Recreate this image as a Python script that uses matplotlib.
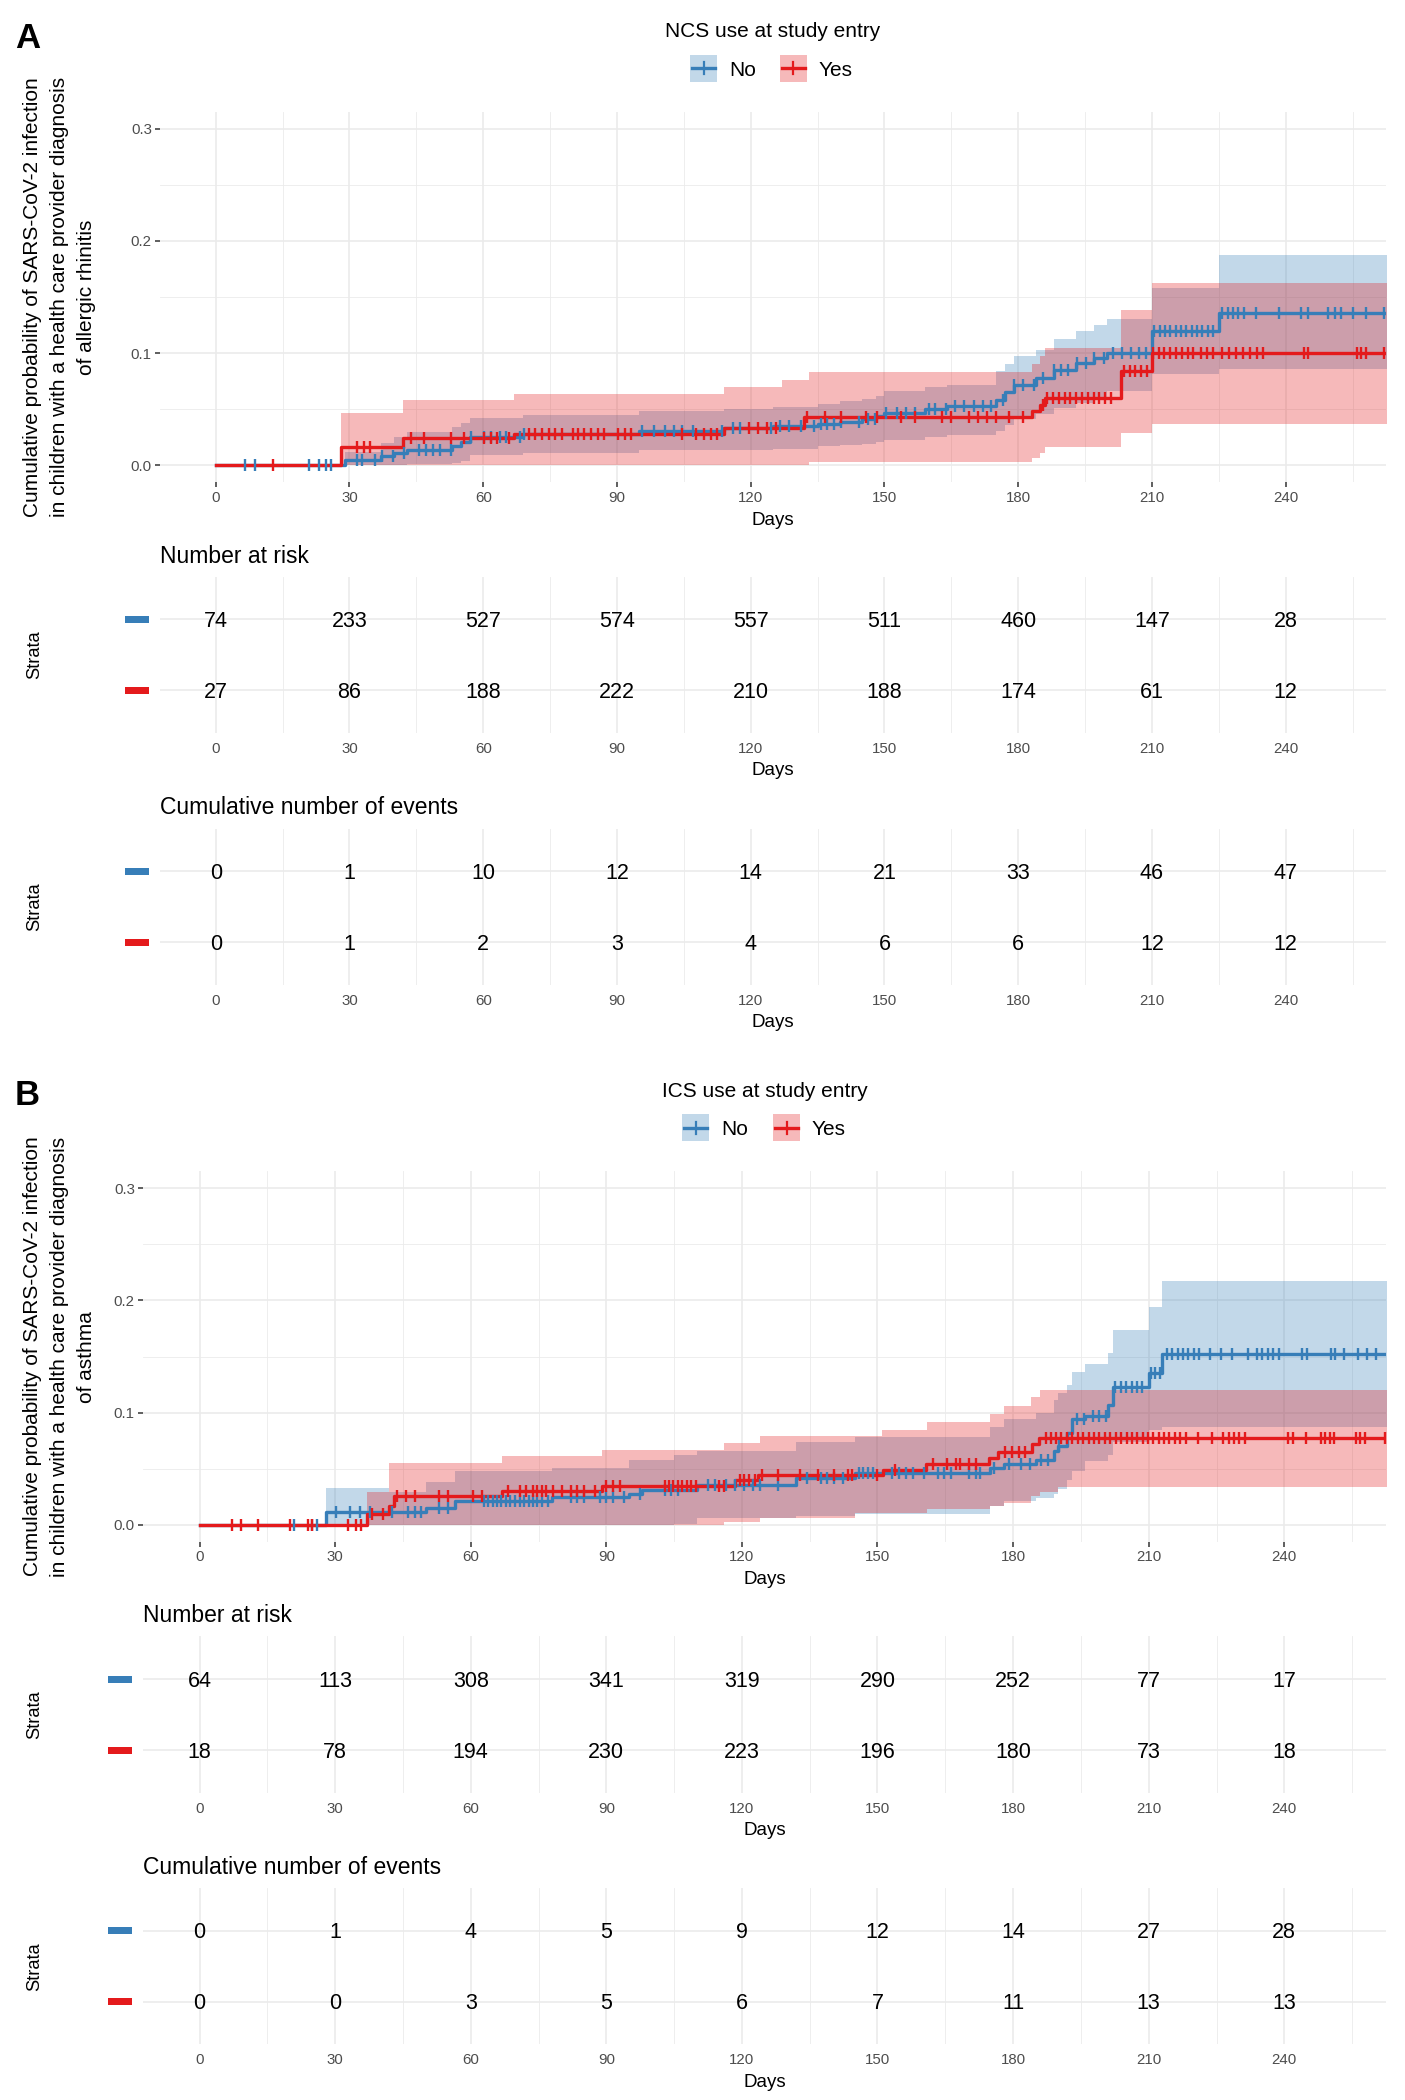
import numpy as np
import matplotlib.pyplot as plt
from matplotlib.patches import Rectangle
from matplotlib.lines import Line2D

plt.rcParams['font.family'] = ['Liberation Sans', 'DejaVu Sans']

BLUE = '#377EB8'
RED = '#E41A1C'
GRID = '#EBEBEB'
W, H = 1405, 2100

days = [0, 30, 60, 90, 120, 150, 180, 210, 240]
strata = ['No', 'Yes']

# ---------------- panel A : NCS use, allergic rhinitis ----------------
a_no_t = [0, 29, 37, 40, 43, 53, 55, 57, 69, 95, 114, 125, 135, 140, 145, 148, 150,
          159, 164, 175, 177, 179, 184, 188, 193, 197, 200, 210, 225]
a_no_est = [0, .005, .008, .011, .014, .017, .021, .025, .028, .031, .033, .035, .037,
            .039, .041, .044, .047, .050, .053, .058, .065, .072, .078, .085, .091,
            .096, .100, .120, .136]
a_no_lo = [0, 0, 0, 0, .001, .002, .004, .009, .011, .014, .014, .015, .017, .018,
           .019, .021, .023, .025, .027, .031, .036, .041, .046, .051, .056, .060,
           .066, .081, .086]
a_no_hi = [0, .012, .020, .025, .030, .034, .038, .042, .045, .048, .050, .052, .055,
           .057, .059, .062, .066, .070, .072, .084, .090, .097, .103, .113, .120,
           .125, .130, .158, .187]
a_no_cens = [6.5, 8.7, 21, 23.2, 24.7, 25.9, 31.7, 32.7, 35.7, 37.2, 39.7, 42.2, 45.7,
             47.2, 48.7, 50.2, 52.7, 57.2, 60.2, 61.7, 63.7, 65.2, 68.2, 69.2, 95.7,
             98.2, 100.7, 102.7, 104.7, 107, 113.6, 116.1, 117.6, 124.6, 126.6, 128.7,
             131.2, 134.2, 135.7, 137.2, 138.7, 140.2, 144.3, 146.3, 147.8, 150.3,
             152.8, 154.8, 156.9, 159.9, 161.4, 163.9, 165.9, 167.9, 170, 172, 174,
             176.5, 179, 181, 183.5, 185.6, 188, 189.6, 191.1, 193.1, 195.1, 197.1,
             199.2, 201.2, 203.2, 205.2, 207.2, 208.7, 210.5, 211.7, 212.9, 214.1,
             215.3, 216.5, 217.7, 218.9, 220.1, 221.3, 222.5, 223.7, 225.8, 227,
             228.2, 229.4, 230.7, 233.4, 238.4, 243.5, 245, 249.5, 251, 252.5, 255,
             258, 262]

a_yes_t = [0, 28, 42, 67, 114, 132, 183, 185, 186, 203, 210]
a_yes_est = [0, .016, .024, .028, .033, .043, .048, .054, .060, .084, .100]
a_yes_bt = [0, 28, 42, 67, 114, 127, 133, 183, 185, 186, 203, 210]
a_yes_lo = [0, 0, 0, 0, 0, 0, .003, .007, .011, .016, .029, .037]
a_yes_hi = [0, .047, .058, .064, .070, .076, .083, .090, .097, .105, .138, .1625]
a_yes_cens = [12.9, 31.7, 33.2, 34.7, 43.7, 46.7, 52.7, 55.7, 60.2, 61.7, 63.2, 65.7,
              70.2, 71.7, 73.2, 74.7, 76.2, 77.7, 80.2, 81.2, 82.7, 84.2, 85.7, 87.2,
              90.2, 91.7, 93.2, 104.7, 107.7, 109.5, 111, 112.5, 119.6, 121.6, 123.6,
              125.6, 132.7, 136.7, 140.2, 145.8, 148.3, 153.8, 156.9, 162.9, 164.9,
              168.9, 171, 173, 175, 178, 181, 185.6, 186.5, 187.8, 189.1, 190.4,
              191.7, 193, 194.3, 195.6, 196.9, 198.2, 199.5, 200.8, 203.7, 205,
              206.3, 207.6, 208.9, 210.2, 211.5, 212.8, 214.1, 215.4, 216.7, 218,
              219.3, 221, 222.3, 223.8, 225.8, 227.3, 228.9, 230.4, 232, 233.5, 235,
              244, 245, 256, 257, 258, 262]

a_risk_no = [74, 233, 527, 574, 557, 511, 460, 147, 28]
a_risk_yes = [27, 86, 188, 222, 210, 188, 174, 61, 12]
a_events_no = [0, 1, 10, 12, 14, 21, 33, 46, 47]
a_events_yes = [0, 1, 2, 3, 4, 6, 6, 12, 12]

# ---------------- panel B : ICS use, asthma ----------------
b_no_t = [0, 28, 50, 56.5, 78, 95, 98, 110, 132, 145, 175, 178, 185, 189, 190, 192,
          193, 196, 201, 202, 210, 213]
b_no_est = [0, .0114, .0148, .0216, .0246, .0277, .031, .036, .0415, .046, .051,
            .0545, .058, .066, .070, .082, .094, .0975, .107, .123, .135, .152]
b_no_bt = [0, 28, 42, 50, 56.5, 78, 95, 105, 110, 132, 145, 175, 178, 185, 189, 190,
           192, 193, 196, 201, 202, 210, 213]
b_no_lo = [0, 0, 0, 0, 0, 0, 0, .001, .006, .008, .010, .017, .021, .024, .028, .032,
           .040, .048, .057, .062, .074, .085, .087]
b_no_hi = [0, .033, .029, .038, .048, .051, .058, .062, .066, .074, .078, .087, .094,
           .100, .111, .118, .125, .136, .143, .153, .174, .194, .217]
b_no_cens = [20.9, 24.9, 26.1, 30.3, 33.3, 35.5, 37.7, 42.6, 46.1, 47.6, 49.1, 53, 55,
             62.9, 63.9, 64.9, 65.8, 66.8, 67.8, 68.8, 69.8, 70.8, 71.8, 72.8, 73.8,
             74.7, 75.7, 77.2, 82.1, 83.6, 85.1, 88.5, 90, 91.5, 94, 97.4, 102.9,
             104.3, 105.8, 112.5, 114, 116.5, 118.5, 120.5, 122.5, 124, 128, 134.4,
             137.4, 138.9, 140.4, 142.4, 145.9, 146.9, 147.9, 148.9, 153.3, 154.8,
             156.3, 157.8, 160.3, 163.3, 164.8, 166.3, 170.2, 171.7, 172.7, 175.7,
             179.2, 181.7, 183.7, 186.2, 187.7, 190.1, 194.1, 195.6, 197.6, 199.1,
             200.6, 202.6, 203.8, 205, 206.2, 207.4, 208.6, 210.5, 211.5, 212.5, 214,
             215.2, 216.4, 217.6, 218.8, 220, 221.2, 223.5, 226, 228.5, 231.9, 233.9,
             235.1, 236.3, 237.5, 238.9, 243.9, 245.1, 250.3, 251.3, 253.3, 256.3,
             258.3, 260.3]

b_yes_t = [0, 37, 42, 43, 67, 89, 118.5, 123.5, 151.3, 160.8, 174.7, 176.7, 184.2, 185.7]
b_yes_est = [0, .0099, .017, .0256, .030, .035, .040, .0446, .049, .054, .060, .065,
             .072, .0775]
b_yes_bt = [0, 37, 42, 67, 89, 116, 124, 145, 151, 161, 175, 178, 184, 186, 190]
b_yes_lo = [0, 0, 0, 0, 0, .003, .006, .0108, .0108, .014, .017, .020, .0255, .029, .034]
b_yes_hi = [0, .029, .055, .0615, .067, .073, .079, .079, .085, .092, .099, .106, .114,
            .1206, .1206]
b_yes_cens = [7.1, 9.1, 13, 20, 23.9, 24.9, 32.8, 34.7, 35.7, 38.2, 40.7, 43.6, 45.6,
              47.6, 53, 55, 60.4, 62.4, 68.3, 70.8, 72.3, 73.7, 74.7, 75.7, 76.7, 78.2,
              80.2, 82.1, 83.6, 85.1, 87.6, 90, 91.5, 93, 102.9, 103.9, 104.8, 105.8,
              106.8, 107.8, 108.8, 109.8, 115, 116, 119.5, 120.5, 121.5, 123, 124.5,
              128, 132.9, 136.9, 140.4, 143.4, 144.4, 149.9, 153.8, 162.3, 165.3,
              167.3, 168.3, 170.2, 171.7, 178.2, 179.7, 181.2, 182.7, 187.2, 188.4,
              189.6, 190.7, 191.9, 193.1, 194.3, 195.5, 196.7, 197.9, 199.1, 200.3,
              201.5, 202.7, 203.9, 205.1, 206.3, 207.5, 208.7, 209.9, 211, 212.2,
              213.4, 214.6, 215.8, 217, 218.2, 221, 224, 226.5, 227.7, 228.9, 230,
              231.2, 240.9, 241.9, 244.9, 248.1, 249.1, 250.1, 251, 255.8, 256.8,
              257.8, 262.3]

b_risk_no = [64, 113, 308, 341, 319, 290, 252, 77, 17]
b_risk_yes = [18, 78, 194, 230, 223, 196, 180, 73, 18]
b_events_no = [0, 1, 4, 5, 9, 12, 14, 27, 28]
b_events_yes = [0, 0, 3, 5, 6, 7, 11, 13, 13]

XMAX = 270

fig = plt.figure(figsize=(W / 100, H / 100), dpi=100)


def px_axes(left, top, right, bottom):
    return fig.add_axes([left / W, 1 - bottom / H, (right - left) / W, (bottom - top) / H])


def ftext(x, y, s, **kw):
    fig.text(x / W, 1 - y / H, s, **kw)


def base_grid(ax):
    ax.set_xlim(-12.5, 262.5)
    ax.set_xticks(days)
    ax.set_xticks([d + 15 for d in days], minor=True)
    ax.grid(which='major', color=GRID, lw=1.2, zorder=0)
    ax.grid(which='minor', color=GRID, lw=0.6, zorder=0)
    ax.set_axisbelow(True)
    for s in ax.spines.values():
        s.set_visible(False)
    ax.tick_params(which='minor', length=0)


def km_panel(ax, curves):
    base_grid(ax)
    ax.set_ylim(-0.015, 0.315)
    ax.set_yticks([0, 0.1, 0.2, 0.3])
    ax.set_yticks([0.05, 0.15, 0.25], minor=True)
    ax.set_yticklabels(['0.0', '0.1', '0.2', '0.3'])
    ax.tick_params(which='major', length=3.6, width=1.1, color='#333333',
                   labelsize=10.8, labelcolor='#4D4D4D')
    ax.tick_params(axis='x', which='major', pad=2.5)
    ax.tick_params(axis='y', which='major', pad=2.3)
    for t, est, bt, lo, hi, cens, col in curves:
        bt2 = list(bt) + [XMAX]
        ax.fill_between(bt2, list(lo) + [lo[-1]], list(hi) + [hi[-1]], step='post',
                        color=col, alpha=0.3, lw=0, zorder=1)
    for t, est, bt, lo, hi, cens, col in curves:
        t2 = list(t) + [XMAX]
        e2 = list(est) + [est[-1]]
        ax.step(t2, e2, where='post', color=col, lw=2.4, zorder=3)
        idx = np.searchsorted(t, cens, side='right') - 1
        ax.plot(cens, np.array(est)[idx], ls='none', marker='|', ms=9, mew=1.7,
                color=col, zorder=4)


def table_panel(ax, rows):
    base_grid(ax)
    ax.set_ylim(0.4, 2.6)
    ax.set_yticks([1, 2])
    ax.set_yticklabels([])
    ax.tick_params(which='major', length=0, labelsize=10.8, labelcolor='#4D4D4D')
    ax.tick_params(axis='x', pad=6.5)
    for yrow, vals in zip([2, 1], rows):
        for d, v in zip(days, vals):
            ax.annotate(str(v), (d, yrow), xytext=(0, -5.5), textcoords='offset points',
                        ha='center', va='baseline', fontsize=15.5, color='black')


def legend(title, cx, title_base, key_cy, key_x, text_x):
    ftext(cx, title_base, title, ha='center', va='baseline', fontsize=15)
    for kx, tx, col, lab in zip(key_x, text_x, [BLUE, RED], strata):
        fig.add_artist(Rectangle((kx / W, 1 - (key_cy + 13.5) / H), 27 / W, 27 / H,
                                 transform=fig.transFigure, facecolor=col, alpha=0.3, lw=0))
        fig.add_artist(Line2D([(kx + 2) / W, (kx + 25) / W], [1 - key_cy / H] * 2,
                              transform=fig.transFigure, color=col, lw=2.4))
        fig.add_artist(Line2D([(kx + 13.5) / W] * 2, [1 - (key_cy - 6) / H, 1 - (key_cy + 6) / H],
                              transform=fig.transFigure, color=col, lw=1.6))
        ftext(tx, key_cy + 7.5, lab, ha='left', va='baseline', fontsize=15)


def strata_keys(x0, ys):
    for y, col in zip(ys, [BLUE, RED]):
        fig.add_artist(Rectangle((x0 / W, 1 - (y + 3.5) / H), 23.5 / W, 7 / H,
                                 transform=fig.transFigure, facecolor=col, lw=0))


def draw_panel(letter, letter_base, left, top, title, lab3, curves, risk, events, leg_x):
    main_b = top + 370.4
    risk_t = main_b + 94.6
    risk_b = risk_t + 156.2
    cum_t = risk_b + 95.5
    cum_b = cum_t + 156.2
    cx = (left + 1386) / 2

    ax = px_axes(left, top, 1386, main_b)
    km_panel(ax, curves)
    axr = px_axes(left, risk_t, 1386, risk_b)
    table_panel(axr, risk)
    axc = px_axes(left, cum_t, 1386, cum_b)
    table_panel(axc, events)

    ftext(15, letter_base, letter, ha='left', va='baseline', fontsize=25, fontweight='bold')
    legend(title, cx, top - 74.5, top - 43.5, leg_x, [k + 39 for k in leg_x])

    main_c = (top + main_b) / 2
    lines = ['Cumulative probability of SARS-CoV-2 infection',
             'in children with a health care provider diagnosis', lab3]
    for xp, s in zip([33, 60, 87], lines):
        ftext(xp, main_c, s, rotation=90, ha='center', va='center', fontsize=15)

    for b in [main_b, risk_b, cum_b]:
        ftext(cx, b + 42.5, 'Days', ha='center', va='baseline', fontsize=13.5)
    ftext(left, risk_t - 14, 'Number at risk', ha='left', va='baseline', fontsize=16.5)
    ftext(left, cum_t - 14, 'Cumulative number of events', ha='left', va='baseline',
          fontsize=16.5)
    for t0, b0 in [(risk_t, risk_b), (cum_t, cum_b)]:
        ftext(35, (t0 + b0) / 2, 'Strata', rotation=90, ha='center', va='center',
              fontsize=13.2)
        r1 = t0 + 42.6
        strata_keys(left - 35, [r1, r1 + 71])


draw_panel('A', 47.7, 160, 111.8, 'NCS use at study entry', 'of allergic rhinitis',
           [(a_no_t, a_no_est, a_no_t, a_no_lo, a_no_hi, a_no_cens, BLUE),
            (a_yes_t, a_yes_est, a_yes_bt, a_yes_lo, a_yes_hi, a_yes_cens, RED)],
           [a_risk_no, a_risk_yes], [a_events_no, a_events_yes], [690, 780])

draw_panel('B', 1105, 143, 1171.4, 'ICS use at study entry', 'of asthma',
           [(b_no_t, b_no_est, b_no_bt, b_no_lo, b_no_hi, b_no_cens, BLUE),
            (b_yes_t, b_yes_est, b_yes_bt, b_yes_lo, b_yes_hi, b_yes_cens, RED)],
           [b_risk_no, b_risk_yes], [b_events_no, b_events_yes], [682, 773])

fig.savefig('out.png', dpi=100, facecolor='white')
